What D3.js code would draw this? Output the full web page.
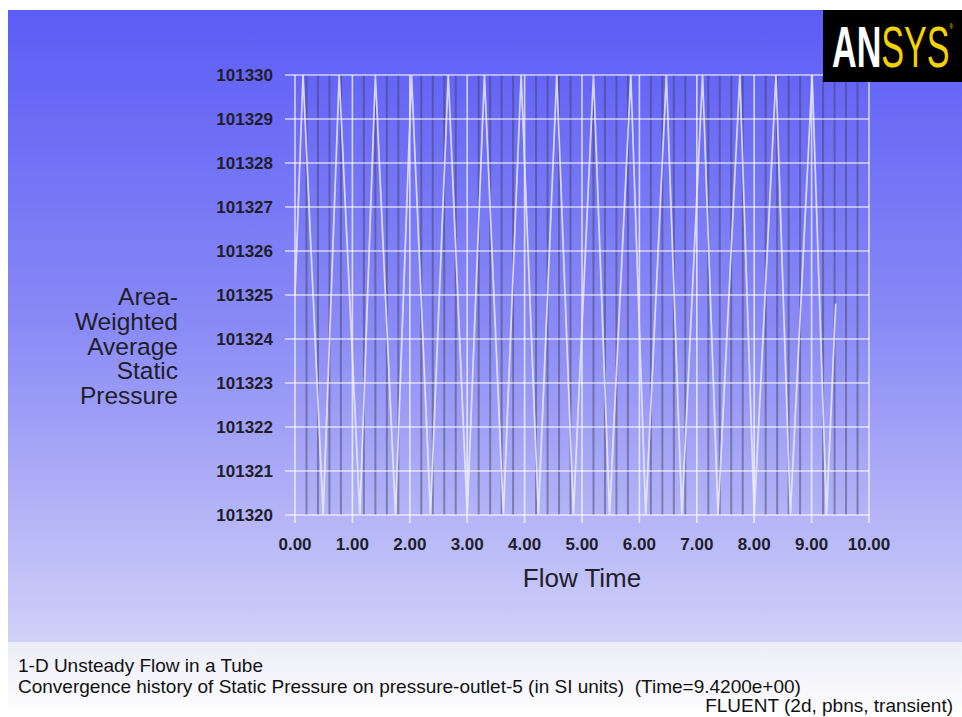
<!DOCTYPE html>
<html>
<head>
<meta charset="utf-8">
<script src="https://cdn.jsdelivr.net/npm/d3@7"></script>
<style>
  body { margin: 0; background: #fff; }
  svg { display: block; }
</style>
</head>
<body>
<svg width="962" height="717"></svg>
<script>
// flow time (s) and area-weighted static pressure (Pa)
var flowTime = [0, 0.14, 0.49, 0.77, 1.13, 1.40, 1.75, 2.03, 2.36, 2.67, 3.00, 3.30, 3.63, 3.94,
                4.24, 4.56, 4.85, 5.20, 5.48, 5.85, 6.11, 6.47, 6.74, 7.10, 7.37, 7.75, 8.00,
                8.38, 8.63, 9.01, 9.26, 9.42];
var pressure = [101325, 101330, 101320, 101330, 101320, 101330, 101320, 101330, 101320, 101330,
                101320, 101330, 101320, 101330, 101320, 101330, 101320, 101330, 101320, 101330,
                101320, 101330, 101320, 101330, 101320, 101330, 101320, 101330, 101320, 101330,
                101320, 101324.8];
var xTicks = [0, 1, 2, 3, 4, 5, 6, 7, 8, 9, 10];
var yTicks = [101320, 101321, 101322, 101323, 101324, 101325, 101326, 101327, 101328, 101329, 101330];
var yTitle = ["Area-", "Weighted", "Average", "Static", "Pressure"];
var footer = ["1-D Unsteady Flow in a Tube",
              "Convergence history of Static Pressure on pressure-outlet-5 (in SI units)  (Time=9.4200e+00)"];
var solverInfo = "FLUENT (2d, pbns, transient)";

var svg = d3.select("svg");
var font = "'Liberation Sans', Arial, sans-serif";

var defs = svg.append("defs");
var bg = defs.append("linearGradient").attr("id", "bg").attr("x1", 0).attr("y1", 0).attr("x2", 0).attr("y2", 1);
bg.append("stop").attr("offset", "0%").attr("stop-color", "#5c5cf7");
bg.append("stop").attr("offset", "50%").attr("stop-color", "#8a8af6");
bg.append("stop").attr("offset", "100%").attr("stop-color", "#d0d0f8");
var panel = defs.append("linearGradient").attr("id", "panel").attr("x1", 0).attr("y1", 0).attr("x2", 0).attr("y2", 1);
panel.append("stop").attr("offset", "0%").attr("stop-color", "#ececf7");
panel.append("stop").attr("offset", "100%").attr("stop-color", "#ffffff");

svg.append("rect").attr("x", 8).attr("y", 10).attr("width", 954).attr("height", 632).attr("fill", "url(#bg)");
svg.append("rect").attr("x", 8).attr("y", 642).attr("width", 954).attr("height", 75).attr("fill", "url(#panel)");

var x = d3.scaleLinear().domain([0, 10]).range([295, 869]);
var y = d3.scaleLinear().domain([101320, 101330]).range([515, 75]);

// dark quarter lines
var quarters = x.ticks(40).filter(function(d){ return Math.abs(d - Math.round(d)) > 1e-6; });
svg.append("g").selectAll("line")
  .data(quarters)
  .enter().append("line")
  .attr("x1", function(d){ return x(d); })
  .attr("x2", function(d){ return x(d); })
  .attr("y1", y(101330))
  .attr("y2", y(101320))
  .attr("stroke", "rgba(60,60,90,0.45)")
  .attr("stroke-width", 2);

// white grid
var grid = svg.append("g").attr("stroke", "rgba(255,255,255,0.7)").attr("stroke-width", 1.6);
grid.selectAll(".h").data(yTicks).enter().append("line")
  .attr("x1", x(0) - 10).attr("x2", x(10))
  .attr("y1", function(d){ return y(d); }).attr("y2", function(d){ return y(d); });
grid.selectAll(".v").data(xTicks).enter().append("line")
  .attr("x1", function(d){ return x(d); }).attr("x2", function(d){ return x(d); })
  .attr("y1", y(101330)).attr("y2", y(101320) + 8);

// curve
var line = d3.line()
  .x(function(d, i){ return x(flowTime[i]); })
  .y(function(d){ return y(d); });
svg.append("path")
  .datum(pressure)
  .attr("d", line)
  .attr("fill", "none")
  .attr("stroke", "rgba(235,235,255,0.85)")
  .attr("stroke-width", 1.7);

// tick labels
svg.append("g").selectAll("text")
  .data(yTicks).enter().append("text")
  .attr("x", 273).attr("y", function(d){ return y(d) + 6; })
  .attr("text-anchor", "end")
  .attr("font-family", font).attr("font-weight", "bold").attr("font-size", 17)
  .attr("fill", "#1e1e2a")
  .text(function(d){ return d; });

svg.append("g").selectAll("text")
  .data(xTicks).enter().append("text")
  .attr("x", function(d){ return x(d); }).attr("y", 550)
  .attr("text-anchor", "middle")
  .attr("font-family", font).attr("font-weight", "bold").attr("font-size", 17)
  .attr("fill", "#1e1e2a")
  .text(function(d){ return d3.format(".2f")(d); });

svg.append("text")
  .attr("x", 582).attr("y", 587)
  .attr("text-anchor", "middle")
  .attr("font-family", font).attr("font-size", 26)
  .attr("fill", "#1e1e2a")
  .text("Flow Time");

svg.append("g").selectAll("text")
  .data(yTitle).enter().append("text")
  .attr("x", 178).attr("y", function(d, i){ return 305 + i * 24.8; })
  .attr("text-anchor", "end")
  .attr("font-family", font).attr("font-size", 24.5)
  .attr("fill", "#1e1e2a")
  .text(function(d){ return d; });

// footer
svg.append("g").selectAll("text")
  .data(footer).enter().append("text")
  .attr("x", 18).attr("y", function(d, i){ return 672 + i * 21; })
  .attr("font-family", font).attr("font-size", 19)
  .attr("fill", "#111")
  .style("white-space", "pre")
  .text(function(d){ return d; });
svg.append("text")
  .attr("x", 953).attr("y", 712)
  .attr("text-anchor", "end")
  .attr("font-family", font).attr("font-size", 19)
  .attr("fill", "#111")
  .text(solverInfo);

// logo
var logo = svg.append("g");
logo.append("rect").attr("x", 823).attr("y", 10).attr("width", 139).attr("height", 72).attr("fill", "#000");
var mark = logo.append("text")
  .attr("x", 832).attr("y", 67)
  .attr("font-family", "'Liberation Sans Narrow', 'Liberation Sans', sans-serif")
  .attr("font-size", 58)
  .attr("textLength", 121).attr("lengthAdjust", "spacingAndGlyphs");
mark.append("tspan").attr("fill", "#fff").attr("font-weight", "bold").text("AN");
mark.append("tspan").attr("fill", "#f2d200").text("SYS");
mark.append("tspan").attr("fill", "#f2d200").attr("font-size", 8).attr("dy", -38).text("®");
</script>
</body>
</html>
